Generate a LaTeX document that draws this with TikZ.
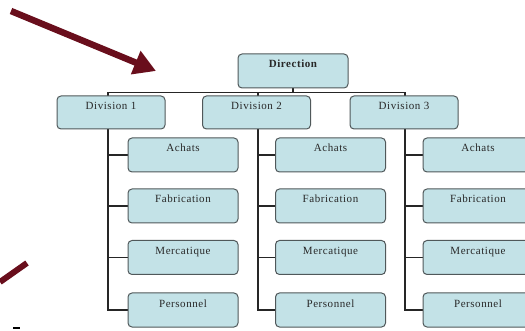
\documentclass[tikz,border=0pt]{standalone}
\usepackage{fontspec}
\setmainfont{Liberation Serif}[LetterSpace=5]
\usetikzlibrary{arrows.meta,backgrounds}

\definecolor{boxblue}{RGB}{195,226,231}
\definecolor{boxline}{RGB}{80,88,90}
\definecolor{arrowred}{RGB}{105,14,28}
\definecolor{textgray}{RGB}{40,40,40}

\tikzset{
    orgbox/.style={draw=boxline, line width=1pt, fill=boxblue, rounded corners=4pt,
        inner sep=0pt, text height=7pt, text depth=13pt, text=textgray,
        font=\fontsize{11}{13}\selectfont},
    topbox/.style={orgbox, minimum width=110pt, minimum height=34pt, font=\fontsize{11}{13}\selectfont\bfseries},
    divbox/.style={orgbox, minimum width=108pt, minimum height=33pt},
    servbox/.style={orgbox, minimum width=110pt, minimum height=34pt},
    link/.style={line width=1.8pt, black!85}
}

\begin{document}
\begin{tikzpicture}[x=1pt, y=-1pt]
    \useasboundingbox (0,0) rectangle (525,331);

    % Pointer arrows
    \coordinate (arrowtail) at (11,11);
    \coordinate (arrowtip) at (156,71);
    \draw[arrowred, line width=6.5pt, -{Triangle[length=22pt, width=24pt]}] (arrowtail) -- (arrowtip);
    \coordinate (marktail) at (0,282);
    \coordinate (markend) at (27,263);
    \draw[arrowred, line width=6pt] (marktail) -- (markend);
    \coordinate (dashL) at (13,328);
    \coordinate (dashR) at (20,328);
    \draw[line width=1.5pt] (dashL) -- (dashR);

    % Top
    \node[topbox] (dir) at (293,71) {Direction};

    % Divisions
    \node[divbox] (d1) at (111,112.5) {Division 1};
    \node[divbox] (d2) at (256.5,112.5) {Division 2};
    \node[divbox] (d3) at (404,112.5) {Division 3};

    % Division 1 services
    \node[servbox] (d1a) at (183,155) {Achats};
    \node[servbox] (d1f) at (183,206) {Fabrication};
    \node[servbox] (d1m) at (183,257.5) {Mercatique};
    \node[servbox] (d1p) at (183,310) {Personnel};

    % Division 2 services
    \node[servbox] (d2a) at (330.5,155) {Achats};
    \node[servbox] (d2f) at (330.5,206) {Fabrication};
    \node[servbox] (d2m) at (330.5,257.5) {Mercatique};
    \node[servbox] (d2p) at (330.5,310) {Personnel};

    % Division 3 services
    \node[servbox] (d3a) at (478,155) {Achats};
    \node[servbox] (d3f) at (478,206) {Fabrication};
    \node[servbox] (d3m) at (478,257.5) {Mercatique};
    \node[servbox] (d3p) at (478,310) {Personnel};

    % Links
    \begin{scope}[on background layer]
        \coordinate (b1) at (108,92.5);
        \coordinate (b2) at (258,92.5);
        \coordinate (b3) at (405,92.5);
        \draw[link] (b1) -- (b3);
        \draw[link] (dir.south) -- (dir.south |- b1);
        \draw[link] (d1a.west) -| (b1);
        \draw[link] (d1f.west) -| (b1);
        \draw[link] (d1m.west) -| (b1);
        \draw[link] (d1p.west) -| (b1);
        \draw[link] (d2a.west) -| (b2);
        \draw[link] (d2f.west) -| (b2);
        \draw[link] (d2m.west) -| (b2);
        \draw[link] (d2p.west) -| (b2);
        \draw[link] (d3a.west) -| (b3);
        \draw[link] (d3f.west) -| (b3);
        \draw[link] (d3m.west) -| (b3);
        \draw[link] (d3p.west) -| (b3);
    \end{scope}
\end{tikzpicture}
\end{document}
